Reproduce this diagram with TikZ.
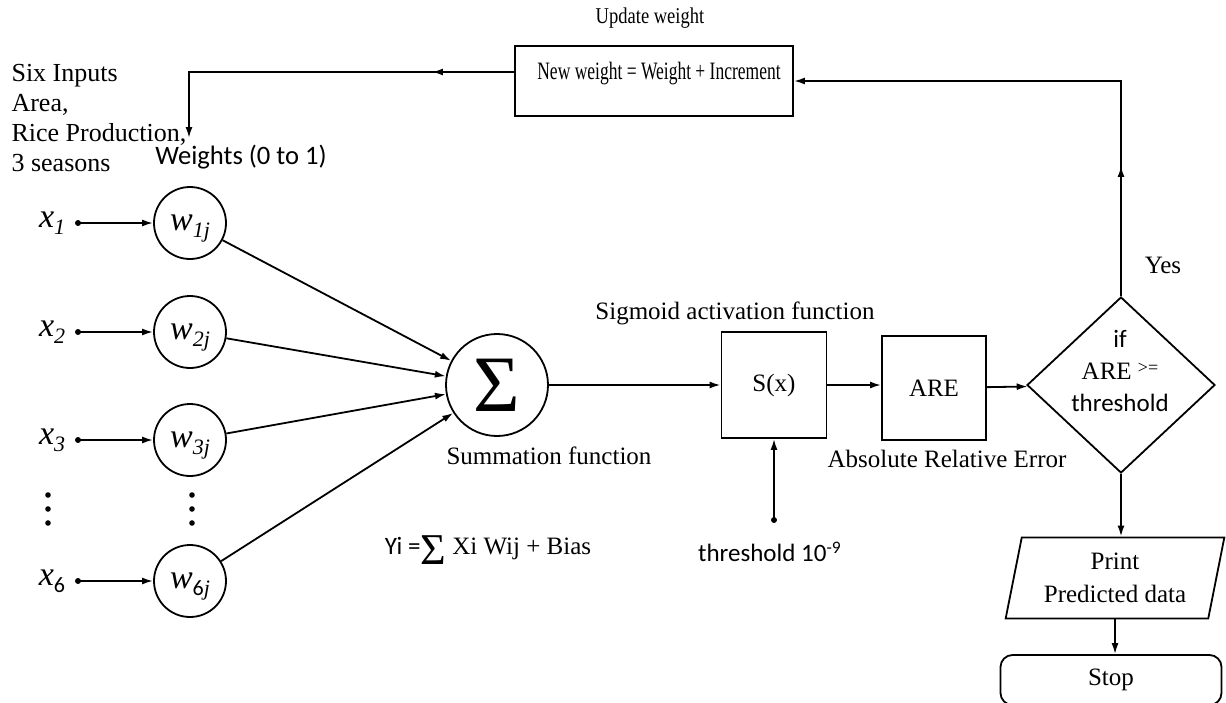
\documentclass[tikz,border=0pt]{standalone}
\usepackage{fontspec}
\setmainfont{Liberation Serif}
\newfontfamily\carl{Carlito}
\usetikzlibrary{arrows.meta,shapes.geometric,decorations.markings}
\newcommand{\fsz}[1]{\fontsize{#1}{1.2\dimexpr#1\relax}\selectfont}
\newcommand{\lowsub}[1]{\raisebox{-0.45ex}{\fsz{11pt}#1}}

\begin{document}
\begin{tikzpicture}[x=0.5pt,y=-0.5pt,line width=0.9pt,
	arr/.style={-{Latex[length=5.5pt,width=3.5pt]}},
	midarr/.style={postaction={decorate},decoration={markings,mark=at position #1 with {\arrow{Latex[length=5.5pt,width=3.5pt]}}}},
	wcirc/.style={draw,circle,minimum size=36pt,inner sep=0pt,text depth=0pt,font=\fsz{17pt}},
	box/.style={draw,rectangle,inner sep=0pt},
	lbl/.style={font=\fsz{12.5pt}},
	clbl/.style={font=\carl\fsz{12.5pt}}]
	\useasboundingbox (0,0) rectangle (1226,702);

	% summation, activation and error blocks
	\node[draw,circle,minimum size=51pt,inner sep=0pt,font=\fsz{40pt}] (sum) at (497,385) {Σ};
	\node[box,minimum width=52.5pt,minimum height=53pt,lbl] (sx) at (774,385) {S(x)};
	\node[box,minimum size=52pt,lbl] (are) at (934,388) {ARE};
	\node[draw,diamond,minimum width=94pt,minimum height=88pt,inner sep=0pt] (dia) at (1121,385) {};
	\node[align=center,inner sep=0pt,font=\fontsize{12.5pt}{16pt}\selectfont] (diatxt) at (1120,371) {{\carl if}\\ARE \raisebox{3pt}{\fsz{9pt}>=}\\{\carl threshold}};
	\node[box,minimum width=139pt,minimum height=35pt] (upd) at (654,81) {};
	\node[font=\fsz{12.5pt}] (updtxt) at (659,74) {\scalebox{0.7}[1]{New weight = Weight + Increment}};
	\node[draw,trapezium,trapezium left angle=78,trapezium right angle=102,trapezium stretches=true,
		minimum width=110pt,minimum height=40.5pt,align=center,font=\fontsize{12.5pt}{16.5pt}\selectfont] (prn) at (1115,578) {Print\\Predicted data};
	\node[draw,rounded corners=6pt,minimum width=110.5pt,minimum height=25pt,lbl] (stop) at (1111,680) {Stop};

	% inputs and weights
	\foreach \i/\y/\sx/\sw in {1/223/\textit{1}/\textit{1j}, 2/332/\textit{2}/\textit{2j}, 3/440/\textit{3}/\textit{3j}, 6/581/{\carl 6}/{{\carl 6}\textit{j}}} {
		\node[anchor=east,inner sep=0pt,font=\fsz{17pt}] (x\i) at (66,\y) {\textit{x}\lowsub{\sx}};
		\coordinate (d\i) at (78,\y);
		\fill (d\i) circle (1.5pt);
		\node[wcirc] (w\i) at (190,\y) {\textit{w}\lowsub{\sw}};
		\draw[arr] (d\i) -- (w\i);
		\draw[arr] (w\i) -- (sum);
	}
	\foreach \xx in {48,192}
		\foreach \yy in {495,509,523}
			\fill (\xx,\yy) circle (1.4pt);

	% connectors
	\draw[arr] (sum) -- (sx);
	\draw[arr] (sx.east) -- (sx.east -| are.west);
	\draw[arr] (are) -- (dia);
	\coordinate (thr) at (774,520);
	\fill (thr) circle (1.5pt);
	\draw[arr] (thr) -- (sx.south);
	\draw[arr,midarr=0.24] (dia.north) |- (upd.east);
	\coordinate (wt) at (189,138);
	\draw[arr,midarr=0.21] ([yshift=4.5pt]upd.west) -| (wt);
	\draw[arr] (dia.south) -- (dia.south |- prn.north);
	\draw[arr] (prn.south) -- (prn.south |- stop.north);

	% labels
	\node[font=\fsz{11.3pt}] (updlbl) at (650,18) {\scalebox{0.82}[1]{Update weight}};
	\node[align=left,anchor=north west,font=\fontsize{13pt}{15pt}\selectfont] (inlbl) at (4,57) {Six Inputs\\Area,\\Rice Production,\\3 seasons};
	\node[clbl,font=\carl\fsz{13.3pt}] (wlbl) at (241,157) {Weights (0 to 1)};
	\node[lbl] (sumlbl) at (549,456) {Summation function};
	\node[lbl] (siglbl) at (735,313) {Sigmoid activation function};
	\node[lbl] (arelbl) at (947,459) {Absolute Relative Error};
	\node[lbl] (yes) at (1163,265) {Yes};
	\node[lbl] (yi) at (488,550) {{\carl Yi =}\raisebox{-5pt}{\fsz{22pt}Σ} Xi Wij + Bias};
	\node[clbl] (thrlbl) at (770,552) {threshold 10\textsuperscript{-9}};
\end{tikzpicture}
\end{document}
